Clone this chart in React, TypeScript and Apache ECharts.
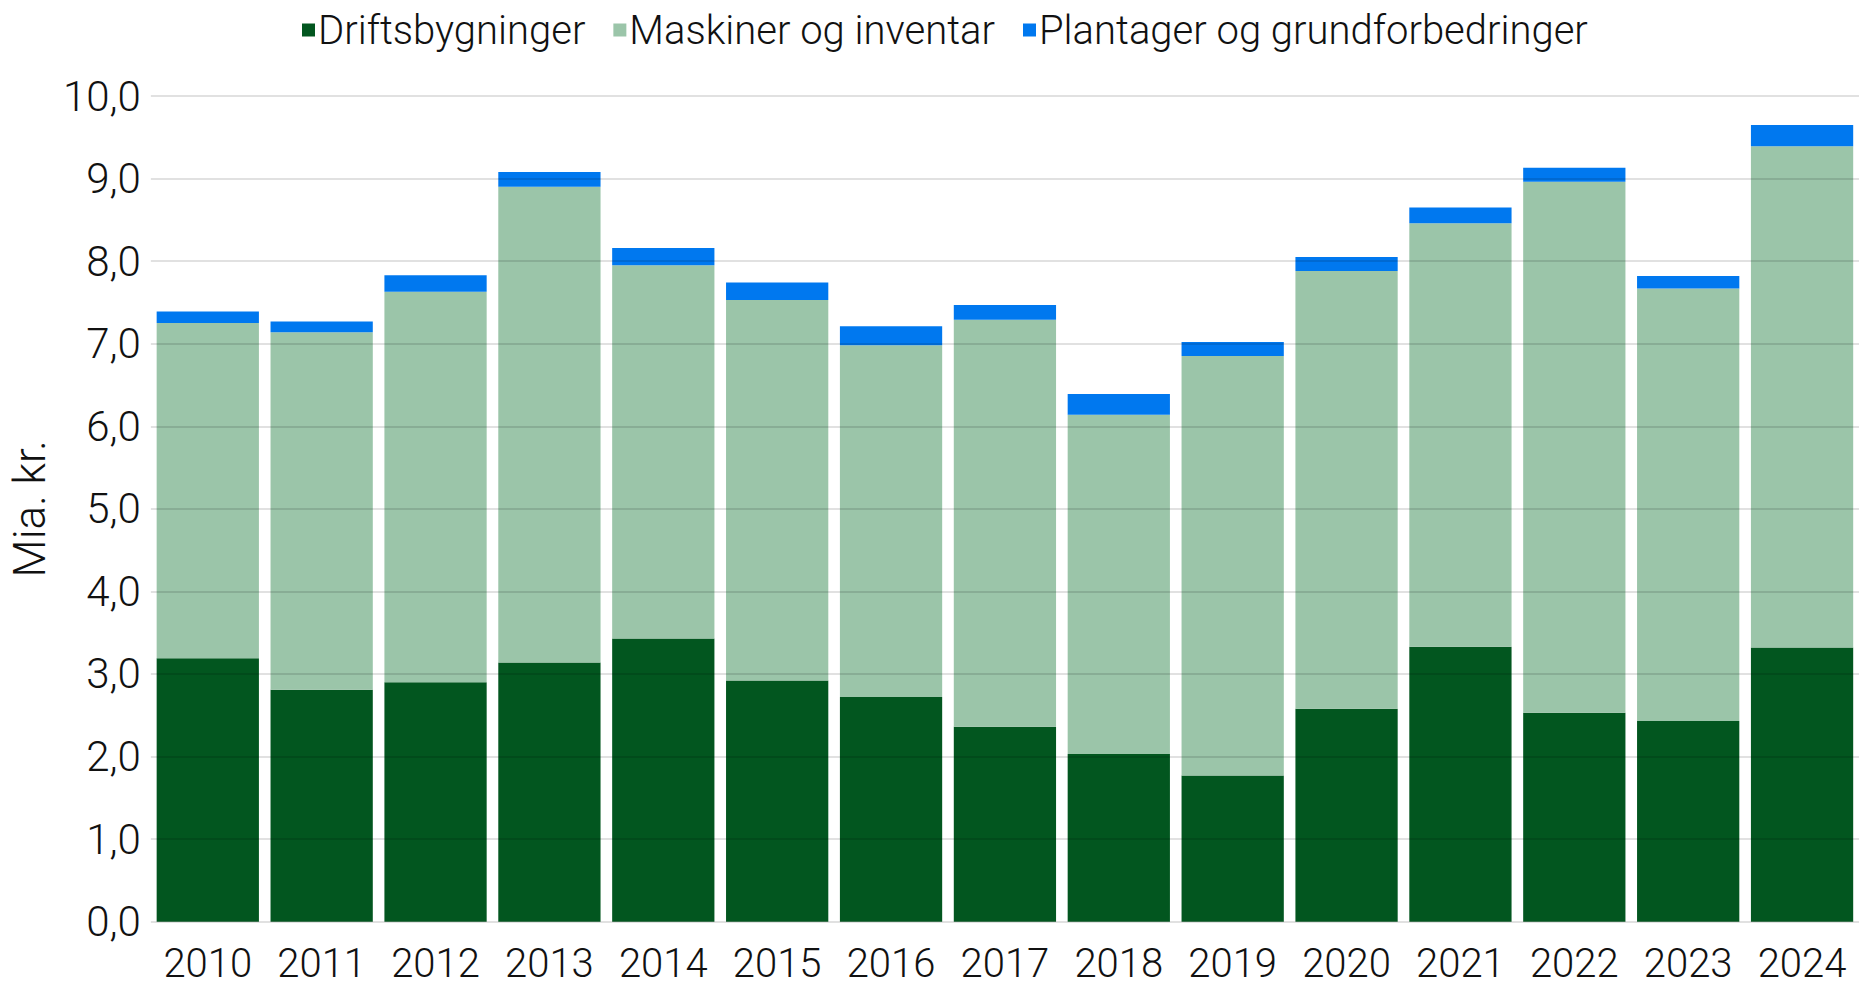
import React, { useEffect, useRef } from "react";
import * as echarts from "echarts";

const years = ["2010","2011","2012","2013","2014","2015","2016","2017","2018","2019","2020","2021","2022","2023","2024"];
const driftsbygninger = [3.19, 2.81, 2.90, 3.14, 3.43, 2.92, 2.72, 2.36, 2.03, 1.77, 2.58, 3.33, 2.53, 2.43, 3.32];
const maskiner = [4.06, 4.33, 4.73, 5.76, 4.52, 4.61, 4.26, 4.93, 4.11, 5.08, 5.30, 5.13, 6.43, 5.24, 6.07];
const plantager = [0.14, 0.13, 0.20, 0.18, 0.21, 0.21, 0.23, 0.18, 0.25, 0.17, 0.17, 0.19, 0.17, 0.15, 0.26];
const seriesNames = ["Driftsbygninger", "Maskiner og inventar", "Plantager og grundforbedringer"];
const colors = ["#02561f", "#9bc5a9", "#0078ef"];

const FONT = "Roboto, 'Noto Sans', sans-serif";

export default function App() {
  const ref = useRef<HTMLDivElement>(null);
  useEffect(() => {
    document.body.style.margin = "0";
    document.body.style.overflow = "hidden";
    const chart = echarts.init(ref.current!, null, { renderer: "svg" });
    const mk = (name: string, data: number[], color: string) => ({
      name,
      type: "bar",
      stack: "total",
      data,
      barCategoryGap: "10.2%",
      itemStyle: { color },
      z: 2,
    });
    chart.setOption({
      animation: false,
      color: colors,
      textStyle: { fontFamily: FONT },
      legend: {
        top: 5,
        left: 297,
        icon: "rect",
        itemWidth: 13,
        itemHeight: 13,
        itemGap: 28,
        textStyle: { fontSize: 40, color: "#111", fontWeight: 300, fontFamily: FONT, padding: [0, 0, 0, -2] },
        data: seriesNames,
      },
      grid: { left: 150.8, right: -6.5, top: 96, bottom: 66.3, containLabel: false },
      xAxis: {
        type: "category",
        data: years,
        axisLine: { show: false },
        axisTick: { show: false },
        axisLabel: {
          interval: 0,
          fontSize: 40,
          lineHeight: 34,
          color: "#111",
          margin: 25,
          fontWeight: 300,
          fontFamily: FONT,
        },
      },
      yAxis: {
        type: "value",
        min: 0,
        max: 10,
        interval: 1,
        z: 10,
        name: "Mia. kr.",
        nameLocation: "middle",
        nameGap: 97,
        nameTextStyle: { fontSize: 44, color: "#111", fontWeight: 300, fontFamily: FONT },
        axisLine: { show: false },
        axisTick: { show: false },
        axisLabel: {
          fontSize: 42,
          color: "#111",
          margin: 10,
          fontWeight: 300,
          fontFamily: FONT,
          formatter: (v: number) => v.toFixed(1).replace(".", ","),
        },
        splitLine: { lineStyle: { color: "rgba(0,0,0,0.16)", width: 1.5 } },
      },
      series: [
        mk(seriesNames[0], driftsbygninger, colors[0]),
        mk(seriesNames[1], maskiner, colors[1]),
        mk(seriesNames[2], plantager, colors[2]),
      ],
    });
    return () => chart.dispose();
  }, []);
  return (
    <div
      ref={ref}
      style={{ position: "fixed", left: 0, top: 0, width: 1859, height: 988, background: "#fff" }}
    />
  );
}
